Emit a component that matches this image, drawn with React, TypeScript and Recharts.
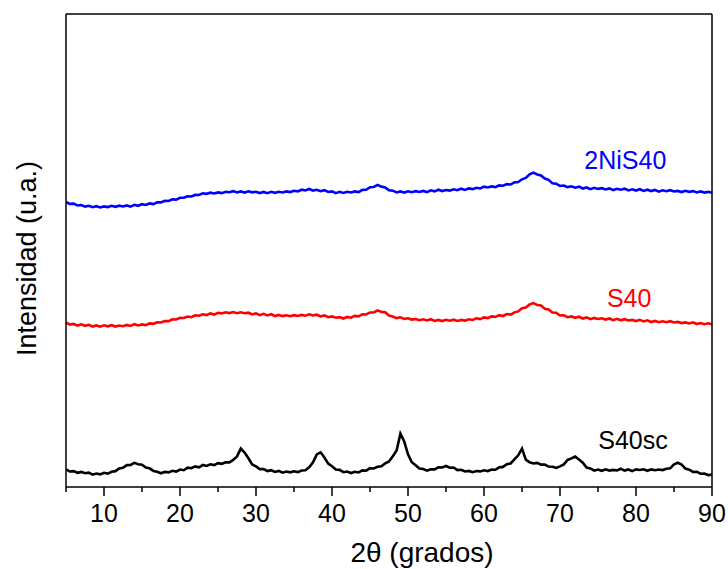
import { LineChart, Line, XAxis, YAxis, ReferenceDot } from "recharts";

const FONT = "'Liberation Sans', Arial, sans-serif";

// 2θ positions (degrees), 0.5° step
const angles = [
  5, 5.5, 6, 6.5, 7, 7.5, 8, 8.5, 9, 9.5,
  10, 10.5, 11, 11.5, 12, 12.5, 13, 13.5, 14, 14.5,
  15, 15.5, 16, 16.5, 17, 17.5, 18, 18.5, 19, 19.5,
  20, 20.5, 21, 21.5, 22, 22.5, 23, 23.5, 24, 24.5,
  25, 25.5, 26, 26.5, 27, 27.5, 28, 28.5, 29, 29.5,
  30, 30.5, 31, 31.5, 32, 32.5, 33, 33.5, 34, 34.5,
  35, 35.5, 36, 36.5, 37, 37.5, 38, 38.5, 39, 39.5,
  40, 40.5, 41, 41.5, 42, 42.5, 43, 43.5, 44, 44.5,
  45, 45.5, 46, 46.5, 47, 47.5, 48, 48.5, 49, 49.5,
  50, 50.5, 51, 51.5, 52, 52.5, 53, 53.5, 54, 54.5,
  55, 55.5, 56, 56.5, 57, 57.5, 58, 58.5, 59, 59.5,
  60, 60.5, 61, 61.5, 62, 62.5, 63, 63.5, 64, 64.5,
  65, 65.5, 66, 66.5, 67, 67.5, 68, 68.5, 69, 69.5,
  70, 70.5, 71, 71.5, 72, 72.5, 73, 73.5, 74, 74.5,
  75, 75.5, 76, 76.5, 77, 77.5, 78, 78.5, 79, 79.5,
  80, 80.5, 81, 81.5, 82, 82.5, 83, 83.5, 84, 84.5,
  85, 85.5, 86, 86.5, 87, 87.5, 88, 88.5, 89, 89.5,
  90,
];

// S40sc (bottom pattern)
const s40sc = [
  150, 131, 134, 120, 128, 116, 121, 104, 114, 107,
  120, 113, 129, 134, 157, 162, 185, 186, 204, 193,
  189, 164, 158, 136, 129, 116, 128, 124, 137, 130,
  148, 142, 164, 159, 174, 167, 186, 178, 192, 185,
  202, 196, 209, 208, 229, 259, 325, 291, 243, 191,
  174, 151, 151, 135, 142, 127, 136, 121, 131, 124,
  133, 126, 139, 141, 166, 208, 276, 293, 249, 198,
  175, 148, 145, 125, 131, 118, 129, 123, 140, 138,
  159, 157, 171, 175, 200, 216, 259, 309, 451, 385,
  276, 209, 184, 156, 152, 138, 149, 149, 167, 165,
  178, 163, 165, 143, 146, 131, 136, 125, 135, 132,
  141, 135, 148, 146, 166, 170, 192, 199, 233, 268,
  325, 232, 209, 199, 204, 189, 190, 173, 171, 162,
  174, 191, 229, 242, 258, 232, 205, 165, 157, 138,
  148, 137, 150, 139, 145, 140, 154, 139, 148, 134,
  149, 144, 150, 137, 149, 142, 148, 143, 154, 158,
  191, 205, 190, 156, 146, 127, 128, 112, 114, 101,
  105,
];

// S40 (middle pattern)
const s40 = [
  1391, 1374, 1379, 1365, 1376, 1363, 1372, 1357, 1366, 1356,
  1367, 1359, 1368, 1357, 1366, 1360, 1371, 1362, 1377, 1366,
  1375, 1369, 1384, 1380, 1393, 1391, 1404, 1403, 1418, 1417,
  1431, 1429, 1442, 1436, 1452, 1448, 1461, 1454, 1468, 1458,
  1473, 1468, 1478, 1471, 1480, 1470, 1477, 1469, 1474, 1459,
  1468, 1453, 1464, 1451, 1461, 1446, 1455, 1445, 1452, 1444,
  1453, 1446, 1455, 1449, 1460, 1451, 1457, 1442, 1451, 1436,
  1443, 1431, 1436, 1425, 1438, 1432, 1447, 1443, 1461, 1459,
  1476, 1477, 1494, 1481, 1478, 1450, 1442, 1428, 1435, 1422,
  1427, 1416, 1421, 1411, 1418, 1409, 1419, 1404, 1413, 1403,
  1414, 1406, 1415, 1404, 1413, 1407, 1418, 1413, 1427, 1420,
  1434, 1428, 1443, 1439, 1453, 1446, 1463, 1458, 1477, 1485,
  1512, 1518, 1544, 1555, 1539, 1535, 1508, 1502, 1476, 1474,
  1450, 1451, 1436, 1443, 1431, 1440, 1425, 1434, 1419, 1430,
  1421, 1427, 1416, 1425, 1411, 1422, 1410, 1419, 1408, 1413,
  1403, 1414, 1400, 1410, 1395, 1404, 1394, 1401, 1393, 1402,
  1391, 1396, 1386, 1392, 1383, 1393, 1378, 1387, 1377, 1384,
  1376,
];

// 2NiS40 (top pattern)
const niS40 = [
  2410, 2394, 2396, 2381, 2385, 2371, 2378, 2366, 2375, 2364,
  2373, 2367, 2378, 2369, 2379, 2372, 2381, 2371, 2386, 2378,
  2392, 2385, 2398, 2392, 2408, 2407, 2421, 2419, 2432, 2430,
  2446, 2446, 2459, 2457, 2470, 2469, 2484, 2479, 2489, 2482,
  2491, 2485, 2496, 2493, 2502, 2491, 2500, 2490, 2501, 2492,
  2497, 2486, 2495, 2485, 2496, 2488, 2497, 2491, 2500, 2494,
  2505, 2500, 2514, 2508, 2520, 2507, 2513, 2501, 2510, 2495,
  2500, 2485, 2496, 2487, 2497, 2491, 2500, 2494, 2513, 2514,
  2535, 2537, 2555, 2540, 2534, 2509, 2506, 2491, 2500, 2490,
  2501, 2493, 2502, 2495, 2504, 2494, 2509, 2500, 2514, 2503,
  2512, 2507, 2518, 2510, 2523, 2512, 2525, 2519, 2530, 2525,
  2540, 2533, 2542, 2536, 2551, 2548, 2561, 2558, 2576, 2579,
  2602, 2614, 2645, 2659, 2643, 2635, 2608, 2598, 2568, 2565,
  2546, 2550, 2536, 2543, 2531, 2540, 2524, 2533, 2519, 2530,
  2521, 2527, 2516, 2525, 2511, 2522, 2514, 2523, 2508, 2517,
  2507, 2518, 2504, 2514, 2503, 2512, 2498, 2509, 2501, 2510,
  2499, 2504, 2494, 2505, 2496, 2502, 2491, 2500, 2490, 2496,
  2488,
];

const xTicks = [5, 10, 15, 20, 25, 30, 35, 40, 45, 50, 55, 60, 65, 70, 75, 80, 85, 90];
const yTicks = [1000, 2000, 3000];

const data = angles.map((angle, i) => ({
  angle,
  s40sc: s40sc[i],
  s40: s40[i],
  niS40: niS40[i],
}));

// bottom axis: long ticks with labels every 10°, short ones in between
const BottomTick = (props: any) => {
  const { x, y, payload } = props;
  const major = payload.value % 10 === 0;
  return (
    <g>
      <line x1={x} x2={x} y1={y} y2={y + (major ? 9 : 5)} stroke="#000" strokeWidth={1.5} />
      {major && (
        <text x={x} y={y + 35} textAnchor="middle" fontFamily={FONT} fontSize={25} fill="#000">
          {payload.value}
        </text>
      )}
    </g>
  );
};

const axisStroke = { stroke: "#000", strokeWidth: 1.5 };

export default function App() {
  return (
    <div style={{ position: "absolute", left: 0, top: 0, width: 728, height: 569, background: "#fff" }}>
      <LineChart width={728} height={569} data={data} margin={{ top: 13, right: 15, bottom: 0, left: 0 }}>
        <XAxis
          dataKey="angle"
          type="number"
          domain={[5, 90]}
          ticks={xTicks}
          interval={0}
          height={82}
          tickLine={false}
          tickSize={0}
          tickMargin={0}
          tick={<BottomTick />}
          axisLine={axisStroke}
          allowDataOverflow
          label={{
            value: "2θ (grados)",
            position: "insideBottom",
            offset: 7,
            dx: 33,
            fill: "#000",
            fontSize: 28,
            fontFamily: FONT,
          }}
        />
        <XAxis
          xAxisId="top"
          orientation="top"
          dataKey="angle"
          type="number"
          domain={[5, 90]}
          ticks={xTicks}
          interval={0}
          height={1}
          tick={false}
          tickSize={-4}
          tickLine={{ stroke: "#000" }}
          axisLine={axisStroke}
          allowDataOverflow
        />
        <YAxis
          width={66}
          domain={[0, 4000]}
          ticks={yTicks}
          tick={false}
          tickSize={-5}
          tickLine={{ stroke: "#000" }}
          axisLine={axisStroke}
          allowDataOverflow
          label={{
            value: "Intensidad (u.a.)",
            angle: -90,
            position: "insideLeft",
            offset: 26,
            dy: 8,
            style: { textAnchor: "middle" },
            fill: "#000",
            fontSize: 27,
            fontFamily: FONT,
          }}
        />
        <YAxis
          yAxisId="right"
          orientation="right"
          width={1}
          domain={[0, 4000]}
          ticks={yTicks}
          tick={false}
          tickSize={-5}
          tickLine={{ stroke: "#000" }}
          axisLine={axisStroke}
          allowDataOverflow
        />
        <Line type="linear" dataKey="s40sc" stroke="#000000" strokeWidth={2.6} dot={false} isAnimationActive={false} />
        <Line type="linear" dataKey="s40" stroke="#ff0000" strokeWidth={2.6} dot={false} isAnimationActive={false} />
        {/* same domains as the main axes, bound here so the frame axes are drawn */}
        <Line
          type="linear"
          dataKey="niS40"
          xAxisId="top"
          yAxisId="right"
          stroke="#0000ff"
          strokeWidth={2.6}
          dot={false}
          isAnimationActive={false}
        />
        <ReferenceDot
          x={78.6}
          y={2765}
          r={0}
          fill="none"
          stroke="none"
          label={{ value: "2NiS40", position: "center", fill: "#0000ff", fontSize: 25, fontFamily: FONT }}
        />
        <ReferenceDot
          x={79.1}
          y={1598}
          r={0}
          fill="none"
          stroke="none"
          label={{ value: "S40", position: "center", fill: "#ff0000", fontSize: 25, fontFamily: FONT }}
        />
        <ReferenceDot
          x={79.6}
          y={397}
          r={0}
          fill="none"
          stroke="none"
          label={{ value: "S40sc", position: "center", fill: "#000000", fontSize: 25, fontFamily: FONT }}
        />
      </LineChart>
    </div>
  );
}
